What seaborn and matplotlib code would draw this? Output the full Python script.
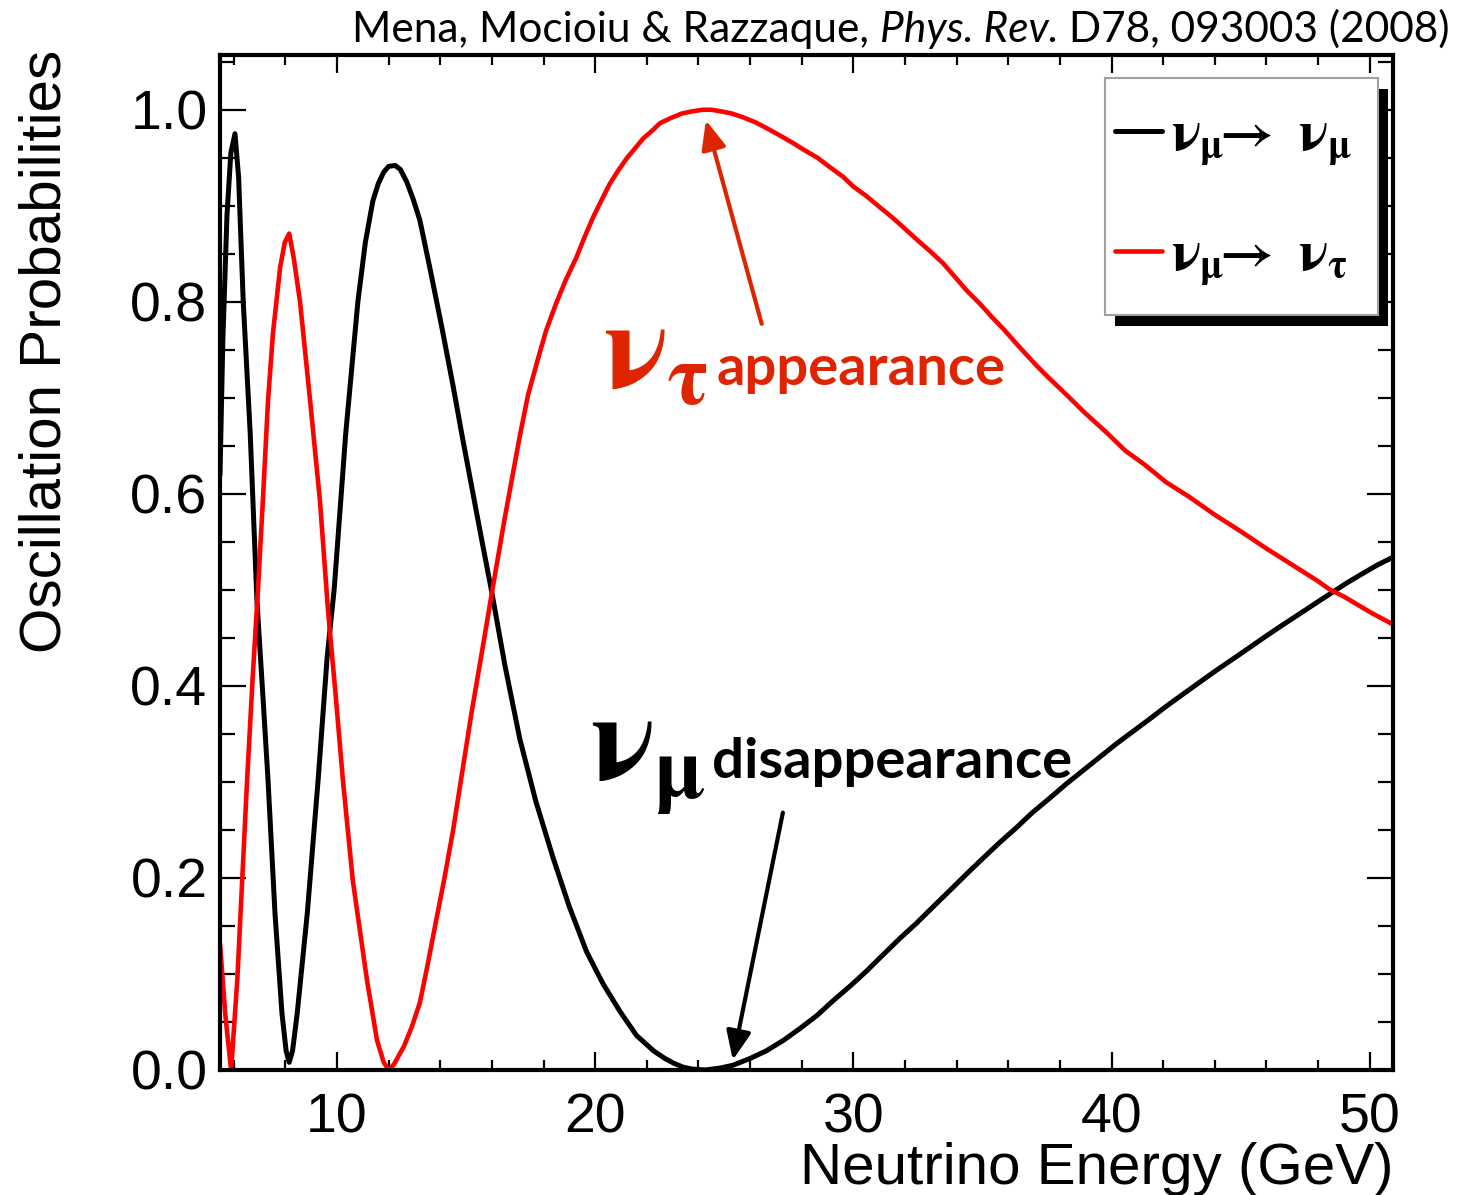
import matplotlib
matplotlib.use("Agg")
import matplotlib.pyplot as plt
import seaborn as sns
import pandas as pd
from matplotlib.patches import Rectangle
from matplotlib.ticker import FixedLocator, MultipleLocator, FixedFormatter

# ---------------- data ----------------
energy_numu = [5.47, 5.58, 5.74, 5.89, 6.05, 6.19, 6.37, 6.64, 6.9, 7.13, 7.33, 7.6,
               7.87, 8.03, 8.15, 8.28, 8.46, 8.85, 9.27, 9.62, 9.89, 10.34, 10.81,
               11.1, 11.39, 11.6, 11.81, 12.0, 12.25, 12.45, 12.7, 12.95, 13.21, 13.6,
               14.05, 14.5, 14.85, 15.2, 15.6, 16.0, 16.5, 17.08, 17.7, 18.37, 19.0,
               19.67, 20.3, 20.96, 21.6, 22.26, 22.7, 23.05, 23.4, 23.75, 24.25,
               24.84, 25.34, 26.0, 26.63, 27.3, 27.92, 28.6, 29.21, 29.9, 30.51,
               31.15, 31.8, 32.45, 33.09, 33.74, 34.38, 35.0, 35.67, 36.3, 36.93,
               37.6, 38.25, 38.9, 39.55, 40.2, 40.8, 41.5, 42.13, 42.8, 43.42, 44.1,
               44.7, 45.35, 45.99, 46.6, 47.28, 47.9, 48.47, 49.1, 49.66, 50.3, 50.9]
prob_numu = [0.62, 0.76, 0.89, 0.955, 0.975, 0.93, 0.80, 0.663, 0.489, 0.39, 0.302, 0.163,
             0.059, 0.02, 0.008, 0.02, 0.059, 0.163, 0.302, 0.43, 0.50, 0.663, 0.80,
             0.862, 0.905, 0.923, 0.935, 0.941, 0.942, 0.938, 0.925, 0.907, 0.885, 0.835,
             0.775, 0.712, 0.66, 0.61, 0.553, 0.497, 0.422, 0.345, 0.28, 0.221, 0.17,
             0.123, 0.09, 0.061, 0.036, 0.02, 0.012, 0.007, 0.003, 0.001, 0.0,
             0.002, 0.005, 0.012, 0.02, 0.031, 0.043, 0.057, 0.072, 0.088, 0.103,
             0.12, 0.137, 0.153, 0.17, 0.187, 0.204, 0.22, 0.237, 0.252, 0.268,
             0.283, 0.298, 0.312, 0.326, 0.34, 0.352, 0.366, 0.379, 0.392, 0.404, 0.417,
             0.428, 0.44, 0.452, 0.463, 0.475, 0.486, 0.496, 0.507, 0.516, 0.526, 0.534]

energy_nutau = [5.47, 5.67, 5.9, 6.14, 6.33, 6.52, 6.73, 6.94, 7.13, 7.33, 7.52, 7.8,
                7.98, 8.15, 8.33, 8.57, 8.96, 9.34, 9.65, 9.95, 10.23, 10.61, 11.16, 11.55,
                11.81, 12.01, 12.21, 12.6, 12.9, 13.21, 13.5, 13.8, 14.15, 14.5, 14.85,
                15.2, 15.6, 16.0, 16.5, 17.08, 17.4, 17.78, 18.1, 18.47, 18.85, 19.27,
                19.6, 19.92, 20.25, 20.57, 20.9, 21.24, 21.55, 21.86, 22.2, 22.51, 22.9,
                23.35, 23.7, 24.16, 24.5, 24.94, 25.3, 25.74, 26.2, 26.63, 27.1, 27.62,
                28.1, 28.61, 29.1, 29.61, 30.0, 30.51, 31.0, 31.5, 32.0, 32.49, 33.0,
                33.48, 33.9, 34.38, 34.9, 35.37, 35.8, 36.26, 36.7, 37.15, 37.6, 38.3,
                38.94, 39.8, 40.53, 41.3, 42.12, 43.0, 44.01, 45.0, 46.0, 47.0, 48.0,
                48.47, 49.0, 50.0, 50.9]
prob_nutau = [0.132, 0.059, 0.0, 0.094, 0.198, 0.302, 0.406, 0.50, 0.593, 0.697, 0.767, 0.836,
              0.862, 0.871, 0.845, 0.80, 0.697, 0.593, 0.48, 0.39, 0.302, 0.198, 0.094, 0.031,
              0.008, 0.0, 0.006, 0.025, 0.045, 0.07, 0.108, 0.15, 0.198, 0.25, 0.31,
              0.37, 0.433, 0.497, 0.575, 0.66, 0.703, 0.74, 0.77, 0.797, 0.822, 0.846,
              0.868, 0.888, 0.906, 0.923, 0.937, 0.95, 0.96, 0.97, 0.978, 0.986, 0.991,
              0.996, 0.998, 1.0, 1.0, 0.998, 0.996, 0.992, 0.987, 0.981, 0.974, 0.966,
              0.958, 0.95, 0.94, 0.93, 0.92, 0.91, 0.899, 0.888, 0.876, 0.864, 0.852,
              0.84, 0.827, 0.812, 0.798, 0.784, 0.772, 0.758, 0.745, 0.732, 0.72, 0.702,
              0.685, 0.664, 0.645, 0.63, 0.612, 0.597, 0.578, 0.561, 0.543, 0.526, 0.509,
              0.50, 0.493, 0.477, 0.464]

x_ticks = [10, 20, 30, 40, 50]
x_tick_labels = ["10", "20", "30", "40", "50"]
y_ticks = [0.0, 0.2, 0.4, 0.6, 0.8, 1.0]
y_tick_labels = ["0.0", "0.2", "0.4", "0.6", "0.8", "1.0"]
x_range = (5.47, 50.9)
y_range = (0.0, 1.057)

label_numu = r"$\nu_{\mu}\!\!\rightarrow\ \nu_{\mu}$"
label_nutau = r"$\nu_{\mu}\!\!\rightarrow\ \nu_{\tau}$"
x_title = "Neutrino Energy (GeV)"
y_title = "Oscillation Probabilities"
cite_parts = ["Mena, Mocioiu & Razzaque, ", "Phys. Rev.", " D78, 093003 (2008)"]

# arrows (tip, tail) in data units
arrow_tau = ((24.29, 0.989), (26.45, 0.777))
arrow_mu = ((25.33, 0.0104), (27.27, 0.268))

# ---------------- style ----------------
sns.set_style("ticks")
plt.rcParams["font.family"] = ["Liberation Sans", "DejaVu Sans"]
plt.rcParams["text.color"] = "black"
plt.rcParams["axes.labelcolor"] = "black"
plt.rcParams["mathtext.fontset"] = "custom"
plt.rcParams["mathtext.rm"] = "STIXGeneral:bold"
plt.rcParams["mathtext.it"] = "STIXGeneral:bold"
plt.rcParams["mathtext.bf"] = "STIXGeneral:bold"

RED_LINE = "#ff0000"
RED_ANN = "#de2400"

fig = plt.figure(figsize=(14.68, 11.95), dpi=100)
ax = fig.add_axes([220 / 1468, 1 - 1070 / 1195, (1393 - 220) / 1468, (1070 - 55) / 1195])

df_mu = pd.DataFrame({"E": energy_numu, "P": prob_numu})
df_tau = pd.DataFrame({"E": energy_nutau, "P": prob_nutau})
sns.lineplot(data=df_mu, x="E", y="P", ax=ax, color="black", lw=3.6,
             estimator=None, sort=False, label=label_numu)
sns.lineplot(data=df_tau, x="E", y="P", ax=ax, color=RED_LINE, lw=3.3,
             estimator=None, sort=False, label=label_nutau)
for ln in ax.get_lines():
    ln.set_solid_joinstyle("round")

ax.set_xlim(*x_range)
ax.set_ylim(*y_range)

ax.xaxis.set_major_locator(FixedLocator(x_ticks))
ax.xaxis.set_major_formatter(FixedFormatter(x_tick_labels))
ax.xaxis.set_minor_locator(MultipleLocator(2))
ax.yaxis.set_major_locator(FixedLocator(y_ticks))
ax.yaxis.set_major_formatter(FixedFormatter(y_tick_labels))
ax.yaxis.set_minor_locator(MultipleLocator(0.05))

ax.tick_params(axis="y", which="major", direction="in", length=19, width=1.6,
               left=True, right=True, labelsize=40, pad=9, colors="black")
ax.tick_params(axis="y", which="minor", direction="in", length=11, width=1.6,
               left=True, right=True, colors="black")
ax.tick_params(axis="x", which="major", direction="in", length=13, width=1.6,
               bottom=True, top=True, labelsize=40, pad=16, colors="black")
ax.tick_params(axis="x", which="minor", direction="in", length=7, width=1.6,
               bottom=True, top=True, colors="black")

for sp in ax.spines.values():
    sp.set_visible(True)
    sp.set_linewidth(3)
    sp.set_color("black")

ax.set_xlabel(x_title, fontsize=42, ha="right", color="black")
ax.xaxis.set_label_coords(1.0, -0.071)
ax.xaxis.label.set_va("top")
ax.set_ylabel(y_title, fontsize=42, loc="top", color="black")
ax.yaxis.set_label_coords(-0.126, 1.005)

# legend box (frame + drop shadow, ROOT style) in axes fraction
box_x0, box_y0, box_w, box_h = 0.7545, 0.7438, 0.2327, 0.2335
shadow_dx, shadow_dy = 0.0085, -0.0108
ax.add_artist(Rectangle((box_x0 + shadow_dx, box_y0 + shadow_dy), box_w, box_h,
                        transform=ax.transAxes, facecolor="black", edgecolor="none",
                        zorder=4.7, clip_on=False))
ax.add_artist(Rectangle((box_x0, box_y0), box_w, box_h, transform=ax.transAxes,
                        facecolor="white", edgecolor="#a0a0a0", lw=1.5,
                        zorder=4.8, clip_on=False))

handles, labels = ax.get_legend_handles_labels()
leg = ax.legend(handles, labels, loc="upper left",
                bbox_to_anchor=((1115 - 220) / 1173, (1070 - 110) / 1015),
                fontsize=40, frameon=False, borderpad=0, labelspacing=1.12,
                handlelength=0.85, handletextpad=0.15, borderaxespad=0)
leg.set_zorder(5)
for txt in leg.get_texts():
    txt.set_color("black")

# annotations
ax.annotate("", xy=arrow_tau[0], xytext=arrow_tau[1],
            arrowprops=dict(arrowstyle="-|>,head_length=0.7,head_width=0.3",
                            color=RED_ANN, lw=3, shrinkA=0, shrinkB=0, mutation_scale=25))
ax.annotate("", xy=arrow_mu[0], xytext=arrow_mu[1],
            arrowprops=dict(arrowstyle="-|>,head_length=0.7,head_width=0.3",
                            color="black", lw=3, shrinkA=0, shrinkB=0, mutation_scale=25))

ax.text(0.3265, 0.673, r"$\nu_{\tau}$", transform=ax.transAxes, color=RED_ANN,
        fontsize=88, ha="left", va="baseline")
ax.text(0.4237, 0.675, "appearance", transform=ax.transAxes, color=RED_ANN,
        fontsize=40.5, family=["Lato", "DejaVu Sans"], fontweight="bold",
        ha="left", va="baseline")
ax.text(0.3154, 0.2857, r"$\nu_{\mu}$", transform=ax.transAxes, color="black",
        fontsize=88, ha="left", va="baseline")
ax.text(0.4194, 0.2877, "disappearance", transform=ax.transAxes, color="black",
        fontsize=40.5, family=["Lato", "DejaVu Sans"], fontweight="bold",
        ha="left", va="baseline")

# citation line at top right, built right-to-left
fig.canvas.draw()
renderer = fig.canvas.get_renderer()
x_right = 1450
y_base = 1195 - 42
styles = ["normal", "italic", "normal"]
for part, st in zip(cite_parts[::-1], styles[::-1]):
    t = fig.text(x_right / 1468, y_base / 1195, part, ha="right", va="baseline",
                 fontsize=30.5, family=["Lato", "DejaVu Sans"], fontweight="normal",
                 style=st, color="black")
    bb = t.get_window_extent(renderer)
    x_right = bb.x0

fig.savefig("out.png", dpi=100)
